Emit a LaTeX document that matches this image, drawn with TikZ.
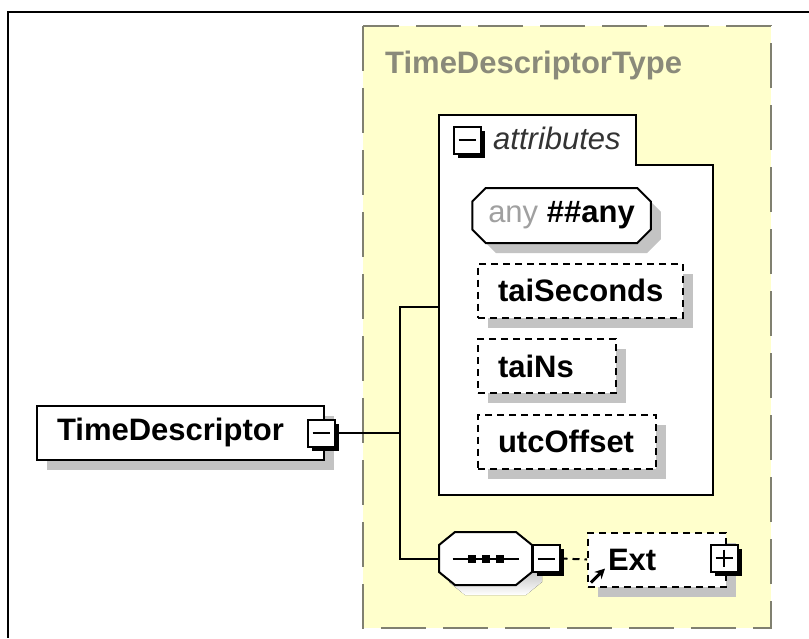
\documentclass[tikz,border=0pt]{standalone}
\usepackage{fontspec}
\setmainfont{Liberation Sans}
\usetikzlibrary{shapes.misc,shadows,arrows.meta}
\definecolor{typefill}{RGB}{255,255,204}
\definecolor{typeline}{RGB}{128,128,112}
\definecolor{typetext}{RGB}{138,138,122}
\definecolor{shade}{RGB}{195,195,195}
\definecolor{anygray}{RGB}{160,160,160}
\newcommand\xsdfont{\fontsize{31pt}{36pt}\selectfont}

\begin{document}
\begin{tikzpicture}[x=1pt, y=-1pt,
    wire/.style={line width=2pt},
    elem/.style={rectangle, draw, line width=2pt, fill=white, font=\xsdfont\bfseries,
      inner xsep=20pt, inner ysep=0pt, minimum height=54pt, align=left,
      drop shadow={shadow xshift=10pt, shadow yshift=-10pt, fill=shade, opacity=1}},
    attr/.style={elem, dash pattern=on 7pt off 5pt},
    octo/.style={elem, chamfered rectangle, chamfered rectangle angle=45, align=center},
    toggle/.style={draw, line width=2pt, fill=white, minimum size=27pt, inner sep=0pt,
      drop shadow={shadow xshift=4pt, shadow yshift=-4pt, fill=black, opacity=1}},
    minusbox/.style={toggle, path picture={
      \draw[line width=2pt] ([xshift=5pt]path picture bounding box.west) -- ([xshift=-5pt]path picture bounding box.east);}},
    plusbox/.style={toggle, path picture={
      \draw[line width=2pt] ([xshift=5pt]path picture bounding box.west) -- ([xshift=-5pt]path picture bounding box.east);
      \draw[line width=2pt] ([yshift=-5pt]path picture bounding box.north) -- ([yshift=5pt]path picture bounding box.south);}}]
            \useasboundingbox (0,0) rectangle (809,638);
            \draw[line width=2pt] (809,12) -- (8,12) -- (8,638);

            % complex type frame
            \draw[line width=2pt, draw=typeline, fill=typefill, dash pattern=on 45pt off 17pt] (363,26) rectangle (771,628);
            \node[anchor=base west, inner sep=0pt, text=typetext, font=\xsdfont\bfseries] (typename) at (385,73) {TimeDescriptorType};

            % attributes group
            \draw[line width=2pt, fill=white] (439,115) -- (636,115) -- (636,165) -- (713,165) -- (713,495) -- (439,495) -- cycle;
            \node[minusbox] (attrtoggle) at (467,140) {};
            \node[anchor=base west, inner sep=0pt, text=black!80, font=\xsdfont\itshape] (attrlabel) at (493,149) {attributes};
            \coordinate (attrs) at (439,307);

            \node[octo, inner xsep=6pt, minimum height=55pt, chamfered rectangle xsep=10pt] (anyattr) at (561.5,215.5) {{\mdseries\color{anygray}any} \#\#any};
            \node[attr, anchor=west, text width=165pt] (taisec) at (477,290.5) {taiSeconds};
            \node[attr, anchor=west, text width=98pt] (tains) at (477,366) {taiNs};
            \node[attr, anchor=west, text width=138pt] (utcoff) at (477,441.5) {utcOffset};

            % element
            \node[elem, anchor=west, text width=247pt] (timedesc) at (36,432.5) {TimeDescriptor};
            \node[minusbox] (tdtoggle) at (321,433) {};
            \coordinate (fork) at (400,433);

            % sequence
            \node[minimum width=93pt, minimum height=53pt, inner sep=0pt] (seq) at (485.5,558.5) {};
            \begin{scope}[shift={(seq.center)}]
                \fill[shade] (-20.5,-16.5) -- (40.5,-16.5) -- (56.5,-3.5) -- (56.5,23.5) -- (40.5,36.5) -- (-20.5,36.5) -- (-36.5,23.5) -- (-36.5,-3.5) -- cycle;
                \draw[line width=2pt, fill=white] (-30.5,-26.5) -- (30.5,-26.5) -- (46.5,-13.5) -- (46.5,13.5) -- (30.5,26.5) -- (-30.5,26.5) -- (-46.5,13.5) -- (-46.5,-13.5) -- cycle;
                \draw[line width=2pt] (-33,0) -- (33,0);
                \foreach \dx in {-14,0,14}
                    \fill (\dx-4,-4) rectangle (\dx+4,4);
            \end{scope}
            \node[minusbox] (seqtoggle) at (546,558.5) {};
            \node[attr, anchor=west, text width=98pt] (ext) at (587,559.5) {Ext};
            \node[plusbox] (exttoggle) at (724,558) {};
            \draw[line width=3pt, -{Stealth[length=10pt,width=10pt]}] ([shift={(4,-5)}]ext.south west) -- ++(14,-14);

            \draw[wire] (tdtoggle.east) -- (fork);
            \draw[wire] (attrs) -- (attrs -| fork) -- (seq.west -| fork) -- (seq.west);
            \draw[wire, dash pattern=on 7pt off 5pt] (seqtoggle.east) -- (ext.west);
        \end{tikzpicture}
\end{document}
